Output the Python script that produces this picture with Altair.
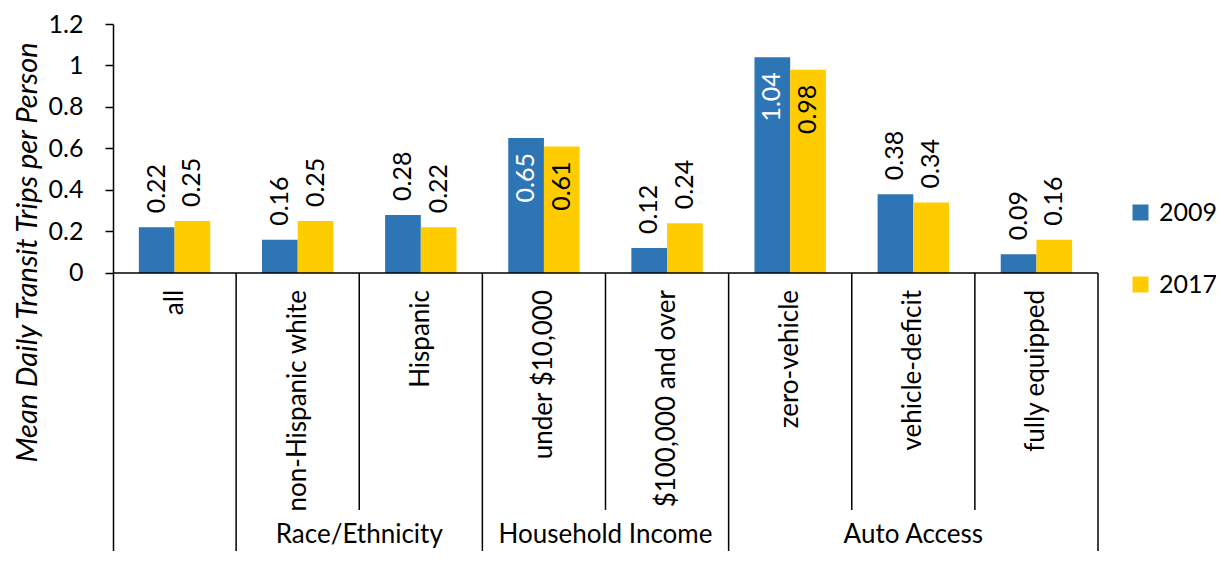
import altair as alt
import pandas as pd

categories = ["all", "non-Hispanic white", "Hispanic", "under $10,000",
              "$100,000 and over", "zero-vehicle", "vehicle-deficit", "fully equipped"]
groups = ["", "Race/Ethnicity", "Race/Ethnicity", "Household Income",
          "Household Income", "Auto Access", "Auto Access", "Auto Access"]
years = ["2009", "2017"]
values_2009 = [0.22, 0.16, 0.28, 0.65, 0.12, 1.04, 0.38, 0.09]
values_2017 = [0.25, 0.25, 0.22, 0.61, 0.24, 0.98, 0.34, 0.16]
y_ticks = [0, 0.2, 0.4, 0.6, 0.8, 1, 1.2]

BLUE = "#2E75B6"
YELLOW = "#FFCC00"
FONT = "Lato"
BW = 0.29          # bar width in category units
Y_MIN, Y_MAX = -1.34, 1.2
PART_END = -1.142
GROUP_Y = -1.30
N = len(categories)

# ---- tables built from the arrays ----
rows = []
for i, cat in enumerate(categories):
    for j, (yr, vals) in enumerate(zip(years, [values_2009, values_2017])):
        x0 = i + 0.5 + (j - 1) * BW
        rows.append({"category": cat, "year": yr, "value": vals[i],
                     "x0": x0, "x1": x0 + BW, "xc": x0 + BW / 2,
                     "label": f"{vals[i]:.2f}"})
bars_df = pd.DataFrame(rows)

cat_df = pd.DataFrame({"category": categories,
                       "xc": [i + 0.5 for i in range(N)],
                       "y": [0] * N})

sep_rows = []
for b in range(1, N + 1):
    full = b == N or groups[b] != groups[b - 1]
    sep_rows.append({"x": b, "y": 0, "y2": Y_MIN if full else PART_END})
sep_df = pd.DataFrame(sep_rows)

grp_rows = []
start = 0
for i in range(1, N + 1):
    if i == N or groups[i] != groups[start]:
        if groups[start]:
            grp_rows.append({"group": groups[start], "xc": (start + i) / 2, "y": GROUP_Y})
        start = i
grp_df = pd.DataFrame(grp_rows)

zero_df = pd.DataFrame({"x": [0], "x2": [N], "y": [0]})

xscale = alt.Scale(domain=[0, N], nice=False, zero=False)
yscale = alt.Scale(domain=[Y_MIN, Y_MAX], nice=False, zero=False)
yaxis = alt.Axis(values=y_ticks, format=".1~f", grid=False,
                 title="Mean Daily Transit Trips per Person",
                 titleFont=FONT, titleFontStyle="italic", titleFontWeight="normal",
                 titleFontSize=29, titleColor="black", titleAngle=270,
                 titleX=-86, titleY=228, titleBaseline="middle", titleAlign="center",
                 domainColor="black", domainWidth=1.5,
                 tickColor="black", tickWidth=1.5, tickSize=8,
                 labelFont=FONT, labelFontSize=25, labelColor="black", labelPadding=22)


def X(f):
    return alt.X(f, type="quantitative", scale=xscale, axis=None)


def Y(f):
    return alt.Y(f, type="quantitative", scale=yscale, axis=yaxis)


bars = alt.Chart(bars_df).mark_bar().encode(
    x=X("x0"), x2="x1", y=Y("value"), y2=alt.datum(0),
    color=alt.Color("year:N", scale=alt.Scale(domain=years, range=[BLUE, YELLOW]),
                    legend=alt.Legend(orient="none", legendX=1015, legendY=176, title=None,
                                      symbolType="square", symbolSize=256,
                                      symbolStrokeWidth=0, labelFont=FONT,
                                      labelFontSize=25, labelColor="black",
                                      rowPadding=46, labelOffset=6, padding=0)),
)

outside = alt.Chart(bars_df).transform_filter("datum.value < 0.5").mark_text(
    angle=270, align="left", baseline="middle", dx=14, font=FONT, fontSize=25, color="black"
).encode(x=X("xc"), y=Y("value"), text="label:N")

inside = alt.Chart(bars_df).transform_filter("datum.value >= 0.5").mark_text(
    angle=270, align="right", baseline="middle", dx=-15, font=FONT, fontSize=25
).encode(x=X("xc"), y=Y("value"), text="label:N",
         color=alt.condition("datum.year == '2009'", alt.value("white"), alt.value("black")))

zero_line = alt.Chart(zero_df).mark_rule(color="black", strokeWidth=1.5).encode(
    x=X("x"), x2="x2", y=Y("y"))

seps = alt.Chart(sep_df).mark_rule(color="black", strokeWidth=1.5).encode(
    x=X("x"), y=Y("y"), y2="y2")

cat_labels = alt.Chart(cat_df).mark_text(
    angle=270, align="right", baseline="middle", dx=-17, font=FONT, fontSize=26, color="black"
).encode(x=X("xc"), y=Y("y"), text="category:N")

grp_labels = alt.Chart(grp_df).mark_text(
    align="center", baseline="alphabetic", font=FONT, fontSize=26, color="black"
).encode(x=X("xc"), y=Y("y"), text="group:N")

chart = alt.layer(bars, outside, inside, zero_line, seps, cat_labels, grp_labels).properties(
    width=985, height=527,
    padding={"left": 105, "top": 16, "right": 118, "bottom": 0},
    autosize=alt.AutoSizeParams(type="none"),
    background="white",
).configure_view(stroke=None)

chart.save("out.html", embed_options={"renderer": "svg", "actions": False})
